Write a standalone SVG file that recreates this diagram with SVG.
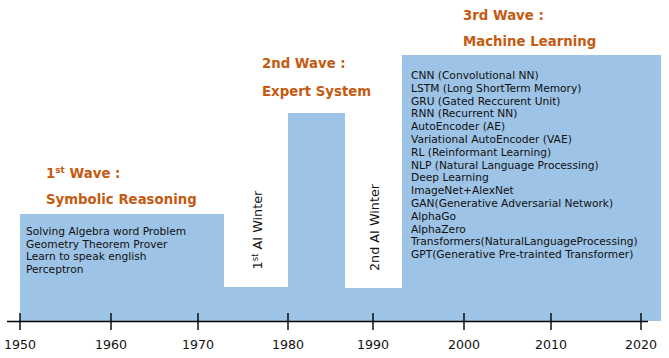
<svg xmlns="http://www.w3.org/2000/svg" width="669" height="358" viewBox="0 0 669 358">
<style>
.blk{fill:#9DC3E6;shape-rendering:crispEdges}
.hd{font-family:"DejaVu Sans","Verdana",sans-serif;font-weight:bold;font-size:13.3px;fill:#C55A11}
.it{font-family:"DejaVu Sans","Verdana",sans-serif;font-size:10.67px;fill:#111}
.tk{font-family:"DejaVu Sans","Verdana",sans-serif;font-size:12.6px;fill:#111;text-anchor:middle}
.wt{font-family:"DejaVu Sans","Verdana",sans-serif;font-size:12.8px;fill:#111;text-anchor:middle}
.ax{stroke:#000;stroke-width:1.4;fill:none}
</style>
<g id="wave1">
<rect class="blk" x="20" y="214" width="204" height="107"/>
<text class="hd" x="46" y="178">1<tspan font-size="9px" dy="-5">st</tspan><tspan dy="5"> Wave :</tspan></text>
<text class="hd" x="46" y="204">Symbolic Reasoning</text>
<text class="it" x="26" y="235">Solving Algebra word Problem</text>
<text class="it" x="26" y="247.7">Geometry Theorem Prover</text>
<text class="it" x="26" y="260.4">Learn to speak english</text>
<text class="it" x="26" y="273.1">Perceptron</text>
</g>
<g id="winter1">
<rect class="blk" x="224" y="287" width="64" height="34"/>
<text class="wt" transform="translate(262,230) rotate(-90)">1<tspan font-size="8.5px" dy="-4.5">st</tspan><tspan dy="4.5"> AI Winter</tspan></text>
</g>
<g id="wave2">
<rect class="blk" x="288" y="113" width="57" height="208"/>
<text class="hd" x="262" y="68">2nd Wave :</text>
<text class="hd" x="262" y="95.5">Expert System</text>
</g>
<g id="winter2">
<rect class="blk" x="345" y="288" width="57" height="33"/>
<text class="wt" transform="translate(379,227.5) rotate(-90)">2nd AI Winter</text>
</g>
<g id="wave3">
<rect class="blk" x="402" y="55" width="259" height="266"/>
<text class="hd" x="463" y="20">3rd Wave :</text>
<text class="hd" x="463" y="45.5">Machine Learning</text>
<text class="it" x="411" y="79">CNN (Convolutional NN)</text>
<text class="it" x="411" y="91.8">LSTM (Long ShortTerm Memory)</text>
<text class="it" x="411" y="104.6">GRU (Gated Reccurent Unit)</text>
<text class="it" x="411" y="117.4">RNN (Recurrent NN)</text>
<text class="it" x="411" y="130.2">AutoEncoder (AE)</text>
<text class="it" x="411" y="143">Variational AutoEncoder (VAE)</text>
<text class="it" x="411" y="155.8">RL (Reinformant Learning)</text>
<text class="it" x="411" y="168.6">NLP (Natural Language Processing)</text>
<text class="it" x="411" y="181.4">Deep Learning</text>
<text class="it" x="411" y="194.2">ImageNet+AlexNet</text>
<text class="it" x="411" y="207">GAN(Generative Adversarial Network)</text>
<text class="it" x="411" y="219.8">AlphaGo</text>
<text class="it" x="411" y="232.6">AlphaZero</text>
<text class="it" x="411" y="245.4">Transformers(NaturalLanguageProcessing)</text>
<text class="it" x="411" y="258.2">GPT(Generative Pre-trainted Transformer)</text>
</g>
<g id="axis">
<path class="ax" d="M7,321.5H648M20,313V330M111,313V330M198,313V330M288,313V330M373,313V330M464,313V330M551,313V330M641,313V330"/>
<text class="tk" x="20" y="349">1950</text>
<text class="tk" x="111" y="349">1960</text>
<text class="tk" x="198" y="349">1970</text>
<text class="tk" x="288" y="349">1980</text>
<text class="tk" x="373" y="349">1990</text>
<text class="tk" x="464" y="349">2000</text>
<text class="tk" x="551" y="349">2010</text>
<text class="tk" x="641" y="349">2020</text>
</g>
</svg>
